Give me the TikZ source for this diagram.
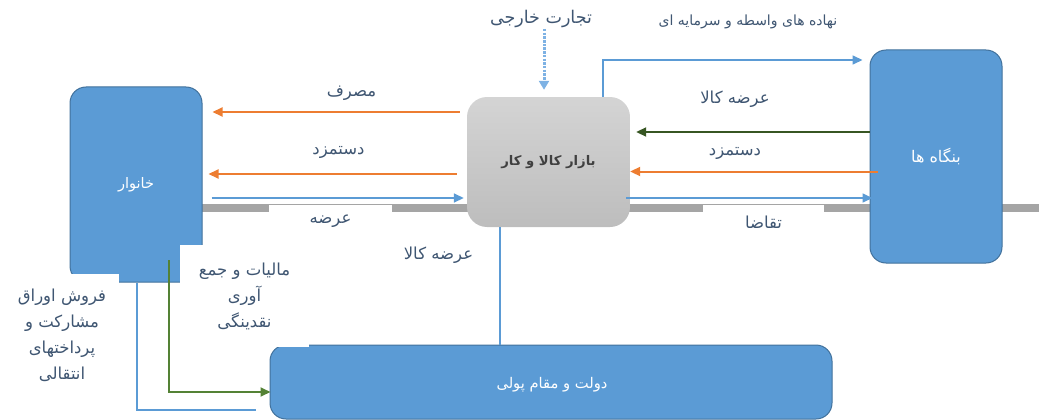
\documentclass[tikz,border=0pt]{standalone}
\usepackage{fontspec}
\usetikzlibrary{arrows.meta}
\TeXXeTstate=1
\newfontfamily\fa[Script=Arabic]{DejaVu Sans}
\definecolor{boxblue}{HTML}{5B9BD5}
\definecolor{boxedge}{HTML}{41719C}
\definecolor{flowblue}{HTML}{5B9BD5}
\definecolor{floworange}{HTML}{ED7D31}
\definecolor{flowgreen}{HTML}{548235}
\definecolor{darkgreen}{HTML}{375623}
\definecolor{dashblue}{HTML}{7EB2E4}
\definecolor{labeltext}{HTML}{3F5672}
\definecolor{barcol}{HTML}{A5A5A5}
\definecolor{mkttop}{HTML}{D4D4D4}
\definecolor{mktbot}{HTML}{BDBDBD}
\tikzset{
  actor/.style={draw=boxedge, line width=1pt, fill=boxblue, rounded corners=16pt,
    inner sep=0pt, text=white, font=\fa\fontsize{14.5}{16}\selectfont},
  market/.style={top color=mkttop, bottom color=mktbot, draw=none, rounded corners=20pt,
    inner sep=0pt, text=black!75, font=\fa\bfseries\fontsize{13.2}{15}\selectfont},
  flowlabel/.style={fill=white, inner sep=0pt, text=labeltext, align=center,
    font=\fa\fontsize{16.5}{26}\selectfont},
  freelabel/.style={inner sep=2pt, text=labeltext, font=\fa\fontsize{17.5}{19}\selectfont},
  tip/.style={-{Triangle[length=10pt,width=9pt]}},
  oarrow/.style={tip, draw=floworange, line width=2pt},
  barrow/.style={tip, draw=flowblue, line width=1.6pt},
  bline/.style={draw=flowblue, line width=1.6pt},
  garrow/.style={tip, draw=flowgreen, line width=1.8pt},
  dgarrow/.style={tip, draw=darkgreen, line width=2pt},
  dasharrow/.style={-{Triangle[length=9pt,width=10pt]}, draw=dashblue, line width=3pt,
    dash pattern=on 2.5pt off 1.2pt},
}
\begin{document}
\begin{tikzpicture}[x=1pt, y=-1pt]
\useasboundingbox (0,0) rectangle (1039,420);

% ground bar behind the sectors
\coordinate (barL) at (202,208);
\coordinate (barR) at (1039,208);
\draw[barcol, line width=8pt] (barL) -- (barR);

% sectors
\node[actor, minimum width=132pt, minimum height=195pt] (hh) at (136,184.5) {\beginR خانوار\endR};
\node[actor, minimum width=132pt, minimum height=213pt, font=\fa\fontsize{16}{18}\selectfont] (firm) at (936,156.5) {\beginR بنگاه ها\endR};
\node[actor, minimum width=562pt, minimum height=74pt] (gov) at (551,382) {};
\node[text=white, font=\fa\fontsize{14.7}{16}\selectfont] (govtext) at (552,385) {\beginR دولت و مقام پولی\endR};
\node[market, minimum width=163pt, minimum height=130pt] (mkt) at (548.5,162) {\beginR بازار کالا و کار\endR};

% flow labels
\node[flowlabel, minimum width=111pt, minimum height=33pt] (lcons) at (351.5,93) {\beginR مصرف\endR};
\node[flowlabel, minimum width=123pt, minimum height=34pt] (lwage) at (338.5,152) {\beginR دستمزد\endR};
\node[flowlabel, minimum width=123pt, minimum height=32pt] (lsup) at (330.5,221) {\beginR عرضه\endR};
\node[flowlabel, minimum width=123pt, minimum height=34pt] (lgoods) at (438.5,255) {\beginR عرضه کالا\endR};
\node[flowlabel, minimum width=129pt, minimum height=102pt] (ltax) at (244.5,296)
  {\beginR مالیات و جمع\endR\\\beginR آوری\endR\\\beginR نقدینگی\endR};
\node[flowlabel, minimum width=114pt, minimum height=123pt] (lbond) at (62,335)
  {\beginR فروش اوراق\endR\\\beginR مشارکت و\endR\\\beginR پرداختهای\endR\\\beginR انتقالی\endR};
\node[flowlabel, minimum width=124pt, minimum height=43pt] (rgoods) at (735,99) {\beginR عرضه کالا\endR};
\node[flowlabel, minimum width=124pt, minimum height=33pt] (rwage) at (735,153.5) {\beginR دستمزد\endR};
\node[flowlabel, minimum width=121pt, minimum height=35pt] (rdem) at (763.5,222.5) {\beginR تقاضا\endR};
\node[freelabel] (trade) at (541,19) {\beginR تجارت خارجی\endR};
\node[freelabel, font=\fa\fontsize{14}{16}\selectfont] (inputs) at (748,22) {\beginR نهاده های واسطه و سرمایه ای\endR};

% flows between households and the market
\draw[oarrow, shorten <=7pt, shorten >=10pt] (mkt.west |- 0,112) -- (hh.east |- 0,112);
\draw[oarrow, shorten <=10pt, shorten >=6pt] (mkt.west |- 0,174) -- (hh.east |- 0,174);
\draw[barrow, shorten <=9pt, shorten >=3pt] (hh.east |- 0,198) -- (mkt.west |- 0,198);

% flows between the market and firms
\draw[dgarrow, shorten >=6pt] (firm.west |- 0,132) -- (mkt.east |- 0,132);
\draw[oarrow, shorten <=-8pt] (firm.west |- 0,171.5) -- (mkt.east |- 0,171.5);
\draw[barrow, shorten <=-4pt, shorten >=-3pt] (mkt.east |- 0,198) -- (firm.west |- 0,198);
\draw[barrow, shorten >=7pt] (mkt.north -| 603,0) |- (firm.west |- 0,60);

% foreign trade into the market
\draw[dasharrow, shorten <=-1pt, shorten >=7pt] (trade.south -| 544,0) -- (mkt.north -| 544,0);

% flows to government
\draw[bline] (mkt.south -| 500,0) -- (gov.north -| 500,0);
\coordinate (taxstart) at (169,260);
\draw[garrow, shorten >=-1pt] (taxstart) |- (gov.west |- 0,392);
\draw[bline, shorten >=14pt] (hh.south -| 137,0) |- (gov.west |- 0,410);
\end{tikzpicture}
\end{document}
